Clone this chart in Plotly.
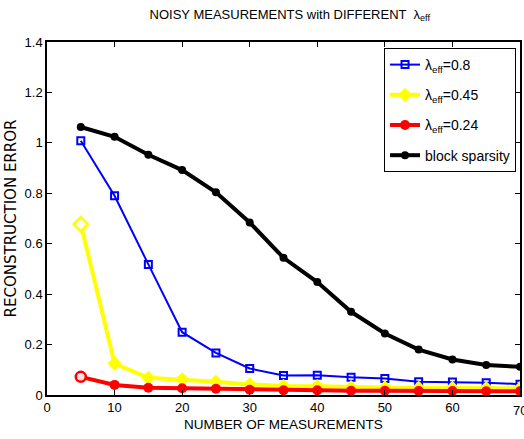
import plotly.graph_objects as go

x = [5, 10, 15, 20, 25, 30, 35, 40, 45, 50, 55, 60, 65, 70]
err_08 = [1.008, 0.79, 0.518, 0.249, 0.167, 0.105, 0.077, 0.078, 0.07, 0.065, 0.053, 0.052, 0.049, 0.043]
err_045 = [0.678, 0.125, 0.068, 0.062, 0.053, 0.042, 0.036, 0.035, 0.031, 0.030, 0.028, 0.028, 0.027, 0.027]
err_024 = [0.072, 0.04, 0.029, 0.027, 0.025, 0.021, 0.019, 0.019, 0.017, 0.017, 0.016, 0.016, 0.015, 0.015]
err_block = [1.063, 1.024, 0.953, 0.892, 0.804, 0.684, 0.544, 0.448, 0.33, 0.244, 0.18, 0.141, 0.119, 0.112]
xticks = [0, 10, 20, 30, 40, 50, 60, 70]
yticks = [0, 0.2, 0.4, 0.6, 0.8, 1, 1.2, 1.4]
ytick_text = ["0", "0.2", "0.4", "0.6", "0.8", "1", "1.2", "1.4"]

FONT = "Liberation Sans, Arial, sans-serif"
WIDE = "DejaVu Sans, sans-serif"

fig = go.Figure()
fig.add_trace(go.Scatter(x=x, y=err_08, mode="lines+markers", name="λ<sub>eff</sub>=0.8",
                         legendgroup="a",
                         line=dict(color="#0000ff", width=2),
                         marker=dict(symbol="square-open", size=7, color="#0000ff", line=dict(width=2))))
fig.add_trace(go.Scatter(x=x, y=err_045, mode="lines+markers", name="λ<sub>eff</sub>=0.45",
                         legendgroup="b",
                         line=dict(color="#ffff00", width=4),
                         marker=dict(symbol="diamond", size=11, color="#ffff00")))
fig.add_trace(go.Scatter(x=x, y=err_024, mode="lines+markers", name="λ<sub>eff</sub>=0.24",
                         legendgroup="c",
                         line=dict(color="#ff0000", width=4),
                         marker=dict(symbol="circle", size=10, color="#ff0000")))
fig.add_trace(go.Scatter(x=x, y=err_block, mode="lines+markers", name="block sparsity",
                         legendgroup="d",
                         line=dict(color="#000000", width=4),
                         marker=dict(symbol="circle", size=8, color="#000000")))
# first points drawn hollow, as in the reference
fig.add_trace(go.Scatter(x=x[:1], y=err_045[:1], mode="markers", showlegend=False, legendgroup="b",
                         marker=dict(symbol="diamond", size=11, color="#fffff0",
                                     line=dict(width=2.5, color="#ffff00"))))
fig.add_trace(go.Scatter(x=x[:1], y=err_024[:1], mode="markers", showlegend=False, legendgroup="c",
                         marker=dict(symbol="circle", size=10, color="#ffe0e0",
                                     line=dict(width=2.5, color="#ff0000"))))

axis_common = dict(showgrid=False, zeroline=False, showline=True, linecolor="black", linewidth=1.5,
                   mirror="ticks", ticks="inside", ticklen=5, tickcolor="black",
                   tickfont=dict(family=FONT, size=13, color="black"))

fig.update_layout(
    width=524, height=439,
    margin=dict(l=47, r=2, t=42, b=44),
    paper_bgcolor="white", plot_bgcolor="white",
    title=dict(text="NOISY MEASUREMENTS with DIFFERENT  λ<sub>eff</sub>", x=0.553, xanchor="center",
               y=0.978, yanchor="top",
               font=dict(family=FONT, size=13, color="black")),
    xaxis=dict(range=[0, 70], tickvals=xticks,
               title=dict(text="NUMBER OF MEASUREMENTS", standoff=5,
                          font=dict(family=FONT, size=13.5, color="black")),
               **axis_common),
    yaxis=dict(range=[0, 1.4], tickvals=yticks, ticktext=ytick_text,
               title=dict(text="RECONSTRUCTION ERROR", standoff=4,
                          font=dict(family=WIDE, size=15, color="black")),
               **axis_common),
    legend=dict(x=0.9916, y=0.983, xanchor="right", yanchor="top",
                bgcolor="white", bordercolor="black", borderwidth=1,
                font=dict(family=FONT, size=14, color="black"),
                tracegroupgap=9, itemwidth=30),
    showlegend=True,
)

# the clipped "70" tick label at the right edge
fig.add_annotation(x=xticks[-1], xref="x", y=0, yref="paper", yshift=-6, yanchor="top",
                   text=str(xticks[-1]), showarrow=False,
                   font=dict(family=FONT, size=13, color="black"))

fig.write_html("out.html")
